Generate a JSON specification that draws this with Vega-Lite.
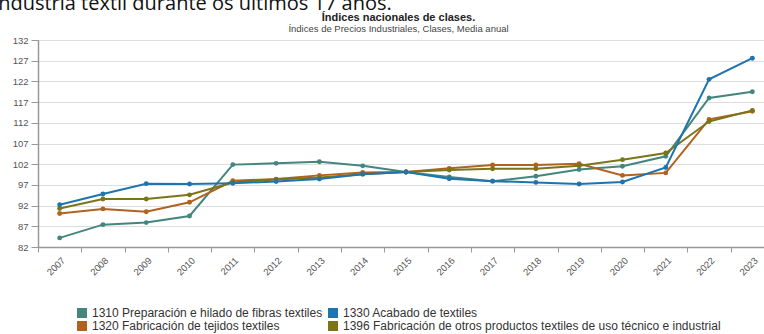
{
  "$schema": "https://vega.github.io/schema/vega-lite/v6.json",
  "width": 726,
  "height": 207,
  "autosize": {"type": "none"},
  "padding": {"left": 38, "top": 40, "right": 0, "bottom": 87},
  "background": "white",
  "title": {
    "text": "ndustria textil durante os últimos 17 años.",
    "anchor": "start",
    "frame": "bounds",
    "orient": "top",
    "offset": -3,
    "dx": -14,
    "font": "Open Sans",
    "fontSize": 20,
    "fontWeight": "normal",
    "color": "#111"
  },
  "config": {
    "view": {"stroke": "#999", "strokeWidth": 1},
    "axis": {"labelFont": "Liberation Sans", "labelColor": "#555", "domainColor": "#999", "tickColor": "#999"}
  },
  "data": {
    "values": [
      {"year": "2007", "serie": "1310 Preparación e hilado de fibras textiles", "v": 84.2},
      {"year": "2008", "serie": "1310 Preparación e hilado de fibras textiles", "v": 87.4},
      {"year": "2009", "serie": "1310 Preparación e hilado de fibras textiles", "v": 87.9},
      {"year": "2010", "serie": "1310 Preparación e hilado de fibras textiles", "v": 89.5},
      {"year": "2011", "serie": "1310 Preparación e hilado de fibras textiles", "v": 101.9},
      {"year": "2012", "serie": "1310 Preparación e hilado de fibras textiles", "v": 102.2},
      {"year": "2013", "serie": "1310 Preparación e hilado de fibras textiles", "v": 102.6},
      {"year": "2014", "serie": "1310 Preparación e hilado de fibras textiles", "v": 101.6},
      {"year": "2015", "serie": "1310 Preparación e hilado de fibras textiles", "v": 100.1},
      {"year": "2016", "serie": "1310 Preparación e hilado de fibras textiles", "v": 98.9},
      {"year": "2017", "serie": "1310 Preparación e hilado de fibras textiles", "v": 97.9},
      {"year": "2018", "serie": "1310 Preparación e hilado de fibras textiles", "v": 99.1},
      {"year": "2019", "serie": "1310 Preparación e hilado de fibras textiles", "v": 100.7},
      {"year": "2020", "serie": "1310 Preparación e hilado de fibras textiles", "v": 101.5},
      {"year": "2021", "serie": "1310 Preparación e hilado de fibras textiles", "v": 103.9},
      {"year": "2022", "serie": "1310 Preparación e hilado de fibras textiles", "v": 118.0},
      {"year": "2023", "serie": "1310 Preparación e hilado de fibras textiles", "v": 119.5},
      {"year": "2007", "serie": "1320 Fabricación de tejidos textiles", "v": 90.1},
      {"year": "2008", "serie": "1320 Fabricación de tejidos textiles", "v": 91.2},
      {"year": "2009", "serie": "1320 Fabricación de tejidos textiles", "v": 90.5},
      {"year": "2010", "serie": "1320 Fabricación de tejidos textiles", "v": 92.8},
      {"year": "2011", "serie": "1320 Fabricación de tejidos textiles", "v": 98.0},
      {"year": "2012", "serie": "1320 Fabricación de tejidos textiles", "v": 98.4},
      {"year": "2013", "serie": "1320 Fabricación de tejidos textiles", "v": 99.3},
      {"year": "2014", "serie": "1320 Fabricación de tejidos textiles", "v": 100.0},
      {"year": "2015", "serie": "1320 Fabricación de tejidos textiles", "v": 100.1},
      {"year": "2016", "serie": "1320 Fabricación de tejidos textiles", "v": 101.0},
      {"year": "2017", "serie": "1320 Fabricación de tejidos textiles", "v": 101.8},
      {"year": "2018", "serie": "1320 Fabricación de tejidos textiles", "v": 101.8},
      {"year": "2019", "serie": "1320 Fabricación de tejidos textiles", "v": 102.1},
      {"year": "2020", "serie": "1320 Fabricación de tejidos textiles", "v": 99.3},
      {"year": "2021", "serie": "1320 Fabricación de tejidos textiles", "v": 99.9},
      {"year": "2022", "serie": "1320 Fabricación de tejidos textiles", "v": 112.8},
      {"year": "2023", "serie": "1320 Fabricación de tejidos textiles", "v": 114.8},
      {"year": "2007", "serie": "1396 Fabricación de otros productos textiles de uso técnico e industrial", "v": 91.3},
      {"year": "2008", "serie": "1396 Fabricación de otros productos textiles de uso técnico e industrial", "v": 93.6},
      {"year": "2009", "serie": "1396 Fabricación de otros productos textiles de uso técnico e industrial", "v": 93.6},
      {"year": "2010", "serie": "1396 Fabricación de otros productos textiles de uso técnico e industrial", "v": 94.6},
      {"year": "2011", "serie": "1396 Fabricación de otros productos textiles de uso técnico e industrial", "v": 97.6},
      {"year": "2012", "serie": "1396 Fabricación de otros productos textiles de uso técnico e industrial", "v": 98.3},
      {"year": "2013", "serie": "1396 Fabricación de otros productos textiles de uso técnico e industrial", "v": 98.8},
      {"year": "2014", "serie": "1396 Fabricación de otros productos textiles de uso técnico e industrial", "v": 99.6},
      {"year": "2015", "serie": "1396 Fabricación de otros productos textiles de uso técnico e industrial", "v": 100.1},
      {"year": "2016", "serie": "1396 Fabricación de otros productos textiles de uso técnico e industrial", "v": 100.6},
      {"year": "2017", "serie": "1396 Fabricación de otros productos textiles de uso técnico e industrial", "v": 100.9},
      {"year": "2018", "serie": "1396 Fabricación de otros productos textiles de uso técnico e industrial", "v": 100.9},
      {"year": "2019", "serie": "1396 Fabricación de otros productos textiles de uso técnico e industrial", "v": 101.6},
      {"year": "2020", "serie": "1396 Fabricación de otros productos textiles de uso técnico e industrial", "v": 103.1},
      {"year": "2021", "serie": "1396 Fabricación de otros productos textiles de uso técnico e industrial", "v": 104.7},
      {"year": "2022", "serie": "1396 Fabricación de otros productos textiles de uso técnico e industrial", "v": 112.3},
      {"year": "2023", "serie": "1396 Fabricación de otros productos textiles de uso técnico e industrial", "v": 115.0},
      {"year": "2007", "serie": "1330 Acabado de textiles", "v": 92.2},
      {"year": "2008", "serie": "1330 Acabado de textiles", "v": 94.8},
      {"year": "2009", "serie": "1330 Acabado de textiles", "v": 97.3},
      {"year": "2010", "serie": "1330 Acabado de textiles", "v": 97.2},
      {"year": "2011", "serie": "1330 Acabado de textiles", "v": 97.4},
      {"year": "2012", "serie": "1330 Acabado de textiles", "v": 97.8},
      {"year": "2013", "serie": "1330 Acabado de textiles", "v": 98.4},
      {"year": "2014", "serie": "1330 Acabado de textiles", "v": 99.6},
      {"year": "2015", "serie": "1330 Acabado de textiles", "v": 100.1},
      {"year": "2016", "serie": "1330 Acabado de textiles", "v": 98.5},
      {"year": "2017", "serie": "1330 Acabado de textiles", "v": 97.9},
      {"year": "2018", "serie": "1330 Acabado de textiles", "v": 97.6},
      {"year": "2019", "serie": "1330 Acabado de textiles", "v": 97.2},
      {"year": "2020", "serie": "1330 Acabado de textiles", "v": 97.7},
      {"year": "2021", "serie": "1330 Acabado de textiles", "v": 101.2},
      {"year": "2022", "serie": "1330 Acabado de textiles", "v": 122.5},
      {"year": "2023", "serie": "1330 Acabado de textiles", "v": 127.6}
    ]
  },
  "mark": {"type": "line", "strokeWidth": 2, "point": {"filled": true, "size": 24}},
  "encoding": {
    "x": {
      "field": "year",
      "type": "ordinal",
      "scale": {"type": "band", "paddingInner": 0, "paddingOuter": 0, "range": [0, 736]},
      "axis": {
        "labelAngle": -45,
        "tickBand": "extent",
        "grid": false,
        "labelFontSize": 9.5,
        "labelPadding": 3,
        "tickSize": 5,
        "domainWidth": 1.5,
        "title": "Índices nacionales de clases.",
        "titleFont": "Liberation Sans",
        "titleFontSize": 11,
        "titleFontWeight": "bold",
        "titleColor": "#222",
        "titleAlign": "center",
        "titleBaseline": "alphabetic",
        "titleX": 360,
        "titleY": -227,
        "titleLimit": 2000
      }
    },
    "y": {
      "field": "v",
      "type": "quantitative",
      "scale": {"domain": [82, 132], "nice": false, "zero": false},
      "axis": {
        "values": [82, 87, 92, 97, 102, 107, 112, 117, 122, 127, 132],
        "gridColor": "#dddddd",
        "labelFontSize": 9.5,
        "tickSize": 7,
        "labelPadding": 3,
        "domainWidth": 1.5,
        "title": "Índices de Precios Industriales, Clases, Media anual",
        "titleAngle": 0,
        "titleAlign": "center",
        "titleBaseline": "alphabetic",
        "titleX": 360,
        "titleY": -9,
        "titleFont": "Liberation Sans",
        "titleFontSize": 9.5,
        "titleFontWeight": "normal",
        "titleColor": "#444",
        "titleLimit": 2000
      }
    },
    "color": {
      "field": "serie",
      "type": "nominal",
      "scale": {
        "domain": [
          "1310 Preparación e hilado de fibras textiles",
          "1320 Fabricación de tejidos textiles",
          "1330 Acabado de textiles",
          "1396 Fabricación de otros productos textiles de uso técnico e industrial"
        ],
        "range": ["#44857e", "#b0621f", "#1f74ad", "#7a7518"]
      },
      "legend": {
        "title": null,
        "orient": "none",
        "legendX": 38,
        "legendY": 267,
        "columns": 2,
        "symbolType": "square",
        "symbolSize": 100,
        "symbolStrokeWidth": 0,
        "labelFont": "Liberation Sans",
        "labelFontSize": 12,
        "labelColor": "#333",
        "labelLimit": 600,
        "rowPadding": 1,
        "columnPadding": 4,
        "labelOffset": 4
      }
    }
  }
}
